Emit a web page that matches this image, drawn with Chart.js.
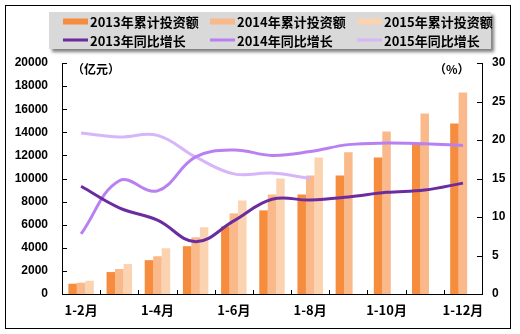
<!DOCTYPE html>
<html>
<head>
<meta charset="utf-8">
<script src="https://cdn.jsdelivr.net/npm/chart.js@4.4.0/dist/chart.umd.min.js"></script>
<style>
    html, body { margin: 0; padding: 0; background: #fff; }
</style>
</head>
<body>
<canvas id="grafico" width="520" height="334"></canvas>
<script>
// Dados
const meses = ['1-2月', '1-3月', '1-4月', '1-5月', '1-6月', '1-7月', '1-8月', '1-9月', '1-10月', '1-11月', '1-12月'];
const invest2013 = [890, 1900, 2930, 4140, 5860, 7240, 8620, 10260, 11810, 13130, 14770];
const invest2014 = [980, 2160, 3270, 4910, 6980, 8620, 10260, 12270, 14080, 15630, 17440];
const invest2015 = [1150, 2590, 3960, 5780, 8100, 10000, 11810, null, null, null, null];
const cresc2013 = [14.0, 11.2, 9.6, 6.8, 9.5, 12.3, 12.2, 12.6, 13.2, 13.5, 14.4];
const cresc2014 = [7.8, 14.7, 13.4, 17.8, 18.7, 18.0, 18.5, 19.4, 19.6, 19.5, 19.3];
const cresc2015 = [20.9, 20.4, 20.6, 17.8, 15.6, 15.7, 15.0, null, null, null, null];

const fonteCJK = "'Noto Sans CJK SC', 'Liberation Sans', sans-serif";
const fonteNum = "'Liberation Sans', Arial, sans-serif";

// Plugin para fundo, moldura, marcas internas e legenda
const moldura = {
    id: 'moldura',
    beforeDraw(chart) {
        const c = chart.ctx;
        c.save();
        c.fillStyle = '#fff';
        c.fillRect(0, 0, chart.width, chart.height);
        c.restore();
    },
    afterDraw(chart) {
        const c = chart.ctx;
        const x = chart.scales.x, y = chart.scales.y, y1 = chart.scales.y1;
        c.save();
        c.strokeStyle = '#000';
        c.lineWidth = 1;
        c.beginPath();
        y.ticks.forEach((t, i) => {
            const py = Math.round(y.getPixelForTick(i)) + 0.5;
            c.moveTo(x.left, py); c.lineTo(x.left + 5, py);
        });
        y1.ticks.forEach((t, i) => {
            const py = Math.round(y1.getPixelForTick(i)) + 0.5;
            c.moveTo(x.right, py); c.lineTo(x.right - 5, py);
        });
        for (let i = 1; i < meses.length; i++) {
            const px = Math.round((x.getPixelForValue(i - 1) + x.getPixelForValue(i)) / 2) + 0.5;
            c.moveTo(px, y.bottom); c.lineTo(px, y.bottom - 4);
        }
        c.stroke();
        c.strokeRect(5.5, 5.5, 505, 323);

        // unidades
        c.fillStyle = '#000';
        c.font = 'bold 12px ' + fonteCJK;
        c.textBaseline = 'middle';
        c.textAlign = 'left';
        c.fillText('（亿元）', 72, 69);
        c.fillText('（%）', 434, 69);

        // legenda
        c.save();
        c.shadowColor = 'rgba(0,0,0,0.5)';
        c.shadowBlur = 3;
        c.shadowOffsetX = 3;
        c.shadowOffsetY = 3;
        c.fillStyle = '#d9d9d9';
        c.fillRect(49, 12, 442, 37);
        c.restore();

        const colunas = [63, 210, 357];
        const linhas = [21.5, 40];
        c.font = 'bold 13px ' + fonteCJK;
        chart.data.datasets.forEach((ds, k) => {
            const cx = colunas[k % 3];
            const cy = linhas[Math.floor(k / 3)];
            if (ds.type === 'line') {
                c.fillStyle = ds.borderColor;
                c.fillRect(cx, cy - 1.5, 25, 3);
            } else {
                c.fillStyle = ds.backgroundColor;
                c.fillRect(cx, cy - 3, 25, 6);
            }
            c.fillStyle = '#000';
            c.fillText(ds.label, cx + 27, cy + 1);
        });
        c.restore();
    }
};

const ctx = document.getElementById('grafico').getContext('2d');
new Chart(ctx, {
    data: {
        labels: meses,
        datasets: [
            { type: 'bar', label: '2013年累计投资额', data: invest2013, backgroundColor: '#F68C3E', yAxisID: 'y', order: 1 },
            { type: 'bar', label: '2014年累计投资额', data: invest2014, backgroundColor: '#F9B98A', yAxisID: 'y', order: 1 },
            { type: 'bar', label: '2015年累计投资额', data: invest2015, backgroundColor: '#FCD3B0', yAxisID: 'y', order: 1 },
            { type: 'line', label: '2013年同比增长', data: cresc2013, borderColor: '#6B2C9F', yAxisID: 'y1', order: 0 },
            { type: 'line', label: '2014年同比增长', data: cresc2014, borderColor: '#B880F2', yAxisID: 'y1', order: 0 },
            { type: 'line', label: '2015年同比增长', data: cresc2015, borderColor: '#D6B6F8', yAxisID: 'y1', order: 0 }
        ]
    },
    options: {
        responsive: false,
        animation: false,
        layout: { padding: { top: 63, left: 0, right: 0, bottom: 0 } },
        datasets: {
            bar: { barPercentage: 1, categoryPercentage: 0.667 },
            line: { tension: 0.4, pointRadius: 0, borderWidth: 3, spanGaps: false }
        },
        plugins: {
            legend: { display: false },
            tooltip: { enabled: false }
        },
        scales: {
            x: {
                grid: { display: false, drawTicks: false },
                border: { display: true, color: '#000', width: 1 },
                afterFit: s => { s.height = 40; },
                ticks: {
                    autoSkip: false,
                    maxRotation: 0,
                    padding: 8,
                    color: '#000',
                    font: { family: fonteCJK, size: 13, weight: 'bold' },
                    callback: (v, i) => (i % 2 === 0 ? meses[i] : '')
                }
            },
            y: {
                position: 'left',
                min: 0,
                max: 20000,
                grid: { display: false, drawTicks: false },
                border: { display: true, color: '#000', width: 1 },
                afterFit: s => { s.width = 62; },
                ticks: {
                    stepSize: 2000,
                    padding: 14,
                    color: '#000',
                    font: { family: fonteNum, size: 12, weight: 'bold' },
                    callback: v => String(v)
                }
            },
            y1: {
                position: 'right',
                min: 0,
                max: 30,
                grid: { display: false, drawTicks: false },
                border: { display: true, color: '#000', width: 1 },
                afterFit: s => { s.width = 38; },
                ticks: {
                    stepSize: 5,
                    padding: 10,
                    color: '#000',
                    font: { family: fonteNum, size: 12, weight: 'bold' },
                    callback: v => String(v)
                }
            }
        }
    },
    plugins: [moldura]
});
</script>
</body>
</html>
